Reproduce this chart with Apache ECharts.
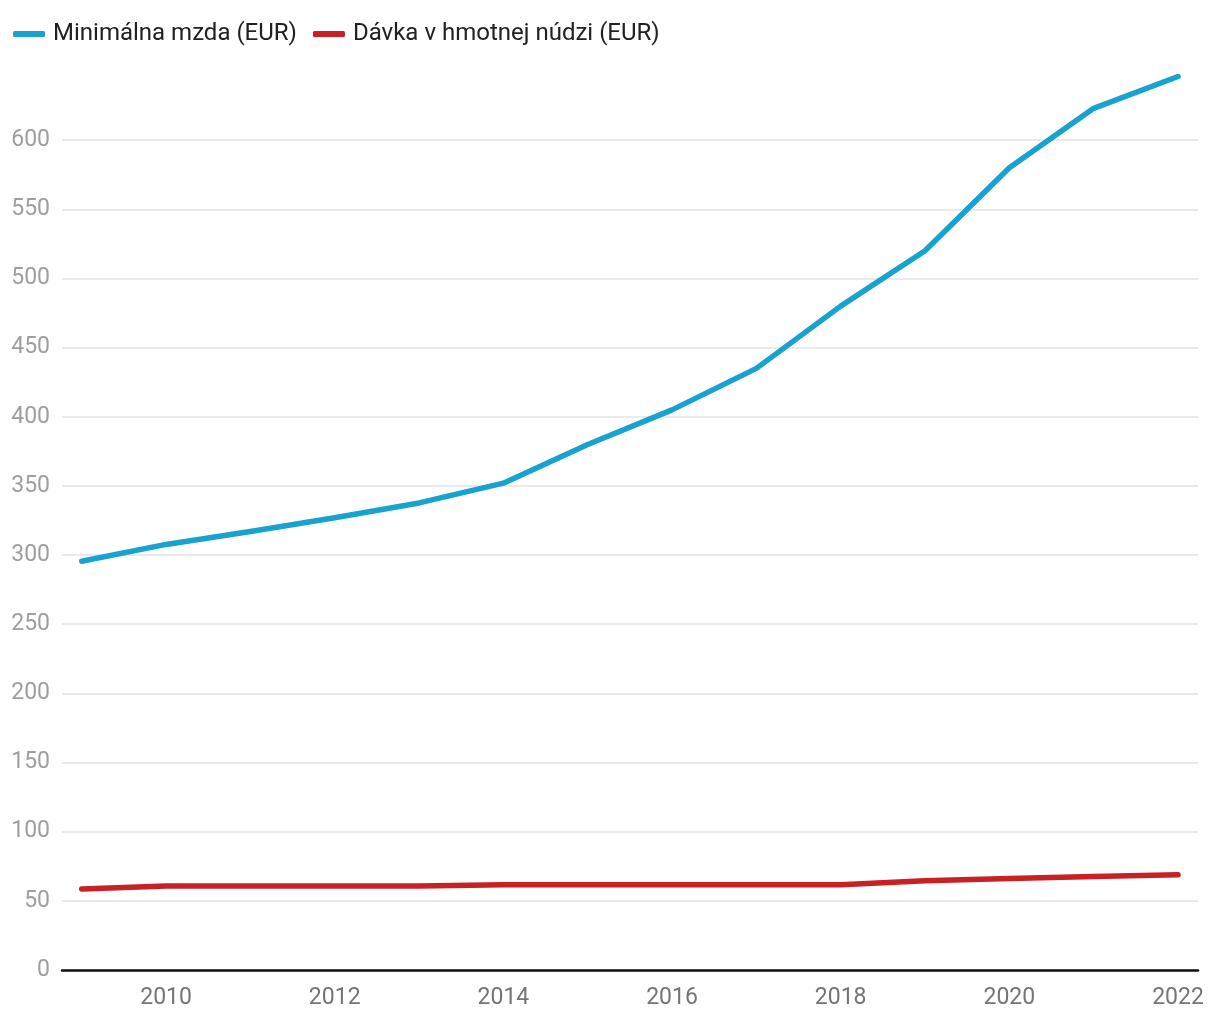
<!DOCTYPE html>
<html>
<head>
<meta charset="utf-8">
<script src="https://cdn.jsdelivr.net/npm/echarts@6/dist/echarts.min.js"></script>
<style>html,body{margin:0;padding:0;background:#fff;}#c{width:1220px;height:1020px;}</style>
</head>
<body>
<div id="c"></div>
<script>
var years = [2009,2010,2011,2012,2013,2014,2015,2016,2017,2018,2019,2020,2021,2022];
var minWage = [295.5,307.7,317,327,337.7,352,380,405,435,480,520,580,623,646];
var benefit = [58.6,60.7,60.7,60.7,60.7,61.6,61.6,61.6,61.6,61.6,64.6,66.2,67.6,68.8];
var xTickLabels = [2010,2012,2014,2016,2018,2020,2022];
var yTickLabels = [0,50,100,150,200,250,300,350,400,450,500,550,600];
var seriesNames = ['Minimálna mzda (EUR)','Dávka v hmotnej núdzi (EUR)'];

function pairs(vals){ return years.map(function(y,i){ return [y, vals[i]]; }); }

var chart = echarts.init(document.getElementById('c'), null, {renderer:'canvas'});
chart.setOption({
  animation:false,
  textStyle:{fontFamily:'Roboto'},
  legend:{
    left:8, top:17, itemWidth:32, itemHeight:6, itemGap:16,
    icon:'roundRect',
    textStyle:{fontSize:24, color:'#212121', fontFamily:'Roboto', padding:[0,0,0,3]},
    data:seriesNames
  },
  grid:{left:62, right:22, top:71, bottom:50, containLabel:false},
  xAxis:{
    type:'value', min:2008.766, max:2022.237,
    axisLine:{show:true, onZero:false, lineStyle:{color:'#111', width:2.5}},
    axisTick:{show:false},
    splitLine:{show:false},
    axisLabel:{customValues:xTickLabels, color:'#757575', fontSize:23, margin:17, fontFamily:'Roboto', formatter:function(v){return String(v);}}
  },
  yAxis:{
    type:'value', min:0, max:650, interval:50,
    axisLine:{show:false}, axisTick:{show:false},
    splitLine:{show:true, showMaxLine:false, lineStyle:{color:'#e3e3e3', width:1.5}},
    axisLabel:{customValues:yTickLabels, color:'#9e9e9e', fontSize:23, margin:12, fontFamily:'Roboto'}
  },
  series:[
    {name:seriesNames[0], type:'line', data:pairs(minWage), showSymbol:false, symbol:'none',
     itemStyle:{color:'#17a2cf'}, lineStyle:{color:'#17a2cf', width:5.5, cap:'round', join:'round'}},
    {name:seriesNames[1], type:'line', data:pairs(benefit), showSymbol:false, symbol:'none',
     itemStyle:{color:'#c92024'}, lineStyle:{color:'#c92024', width:5.5, cap:'round', join:'round'}}
  ]
});
</script>
</body>
</html>
